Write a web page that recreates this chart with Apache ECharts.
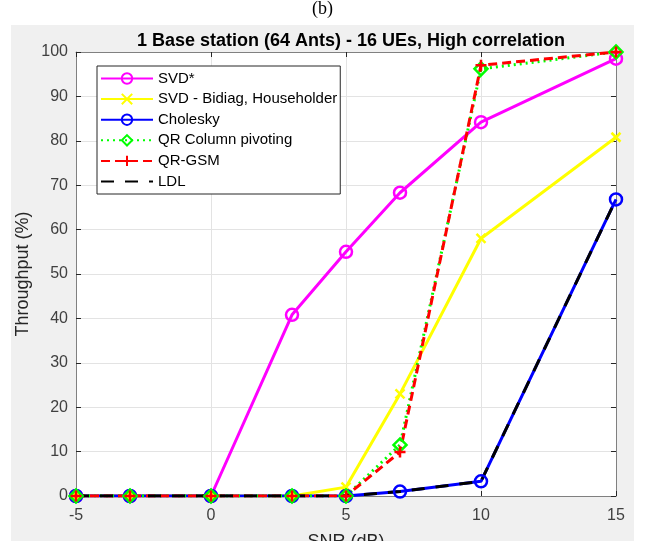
<!DOCTYPE html>
<html>
<head>
<meta charset="utf-8">
<script src="https://cdn.jsdelivr.net/npm/echarts@6/dist/echarts.min.js"></script>
<style>
  html, body { margin: 0; padding: 0; background: #fff; }
  #chart { width: 645px; height: 541px; }
</style>
</head>
<body>
<div id="chart"></div>
<script>
// SNR (dB) sample points
const snr = [-5, -3, 0, 3, 5, 7, 10, 15];
// throughput (%) per detector
const svdStar   = [0, 0, 0, 40.8, 55, 68.3, 84.2, 98.5];
const svdBidiag = [0, 0, 0, 0, 2, 23, 58, 80.8];
const cholesky  = [0, 0, 0, 0, 0, 1, 3.3, 66.8];
const qrColPiv  = [0, 0, 0, 0, 0, 11.5, 96.2, 100];
const qrGsm     = [0, 0, 0, 0, 0, 9.9, 97, 100];
const ldl       = [0, 0, 0, 0, 0, 1, 3.3, 66.8];

const xTicks = [-5, 0, 5, 10, 15];
const yTicks = [0, 10, 20, 30, 40, 50, 60, 70, 80, 90, 100];

const pairs = (ys) => snr.map((x, i) => [x, ys[i]]);

const crossPath = 'path://M0,0L10,10M10,0L0,10';
const plusPath = 'path://M5,0L5,10M0,5L10,5';

const chart = echarts.init(document.getElementById('chart'));

function lineSeries(name, data, color, type, symbol, size, width) {
    return {
        name: name,
        type: 'line',
        data: pairs(data),
        symbol: symbol,
        symbolSize: size,
        showSymbol: symbol !== 'none',
        lineStyle: { color: color, width: width, type: type },
        itemStyle: {
            color: 'rgba(0,0,0,0)',
            // LDL has no marker, keep its legend icon marker invisible
            borderColor: symbol === 'none' ? 'rgba(0,0,0,0)' : color,
            borderWidth: symbol === 'none' ? 0 : 2.5
        },
        animation: false,
        z: 3
    };
}

const font = 'Liberation Sans, Arial, sans-serif';

const options = {
    backgroundColor: '#ffffff',
    graphic: [
        {
            type: 'rect',
            shape: { x: 11, y: 25, width: 623, height: 520 },
            style: { fill: '#f0f0f0' },
            z: -10
        },
        {
            type: 'text',
            left: 'center',
            top: 0,
            style: { text: '(b)', font: '18px "Liberation Serif", serif', fill: '#000' }
        }
    ],
    title: {
        text: '1 Base station (64 Ants) - 16 UEs, High correlation',
        left: 346,
        textAlign: 'center',
        top: 27,
        textStyle: { fontFamily: font, fontSize: 18, fontWeight: 'bold', color: '#000' }
    },
    grid: {
        left: 76, right: 29, top: 52, bottom: 45,
        outerBoundsMode: 'none',
        containLabel: false,
        show: true, backgroundColor: '#ffffff', borderWidth: 0
    },
    legend: {
        orient: 'vertical',
        left: 97,
        top: 66,
        itemWidth: 52,
        itemHeight: 13,
        itemGap: 5.6,
        padding: [5, 3, 5, 3],
        backgroundColor: '#ffffff',
        borderColor: '#262626',
        borderWidth: 1,
        borderRadius: 0,
        textStyle: { fontFamily: font, fontSize: 15, color: '#000' },
        data: ['SVD*', 'SVD - Bidiag, Householder', 'Cholesky', 'QR Column pivoting', 'QR-GSM', 'LDL']
    },
    xAxis: [
        {
            type: 'value',
            min: -5, max: 15, interval: 5,
            name: 'SNR (dB)',
            nameLocation: 'middle',
            nameGap: 37,
            nameMoveOverlap: false,
            nameTextStyle: { fontFamily: font, fontSize: 18, color: '#262626' },
            axisLine: { onZero: false, lineStyle: { color: '#808080', width: 1 } },
            axisTick: { inside: true, length: 5, lineStyle: { color: '#262626' } },
            axisLabel: { fontFamily: font, fontSize: 16, color: '#404040', margin: 12,
                formatter: (v) => xTicks.includes(v) ? String(v) : '' },
            splitLine: { show: true, lineStyle: { color: '#e3e3e3', width: 1 } }
        },
        {
            type: 'value', position: 'top',
            min: -5, max: 15, interval: 5,
            axisLine: { show: true, onZero: false, lineStyle: { color: '#808080', width: 1 } },
            axisTick: { inside: true, length: 5, lineStyle: { color: '#262626' } },
            axisLabel: { show: false },
            splitLine: { show: false }
        }
    ],
    yAxis: [
        {
            type: 'value',
            min: 0, max: 100, interval: 10,
            name: 'Throughput (%)',
            nameLocation: 'middle',
            nameGap: 44,
            nameMoveOverlap: false,
            nameTextStyle: { fontFamily: font, fontSize: 18, color: '#262626' },
            axisLine: { show: true, onZero: false, lineStyle: { color: '#808080', width: 1 } },
            axisTick: { show: true, inside: true, length: 5, lineStyle: { color: '#262626' } },
            axisLabel: { fontFamily: font, fontSize: 16, color: '#404040', margin: 8,
                formatter: (v) => yTicks.includes(v) ? String(v) : '' },
            splitLine: { show: true, lineStyle: { color: '#e3e3e3', width: 1 } }
        },
        {
            type: 'value', position: 'right',
            min: 0, max: 100, interval: 10,
            axisLine: { show: true, onZero: false, lineStyle: { color: '#808080', width: 1 } },
            axisTick: { show: true, inside: true, length: 5, lineStyle: { color: '#262626' } },
            axisLabel: { show: false },
            splitLine: { show: false }
        }
    ],
    series: [
        lineSeries('SVD*', svdStar, '#ff00ff', 'solid', 'circle', 12, 3),
        lineSeries('SVD - Bidiag, Householder', svdBidiag, '#ffff00', 'solid', crossPath, 9, 3),
        lineSeries('Cholesky', cholesky, '#0000ff', 'solid', 'circle', 12, 3),
        lineSeries('QR Column pivoting', qrColPiv, '#00ff00', [2, 4], 'diamond', 13, 3),
        lineSeries('QR-GSM', qrGsm, '#ff0000', [9, 5], plusPath, 11, 3),
        lineSeries('LDL', ldl, '#000000', [13, 11], 'none', 0, 3)
    ]
};
chart.setOption(options);
</script>
</body>
</html>
